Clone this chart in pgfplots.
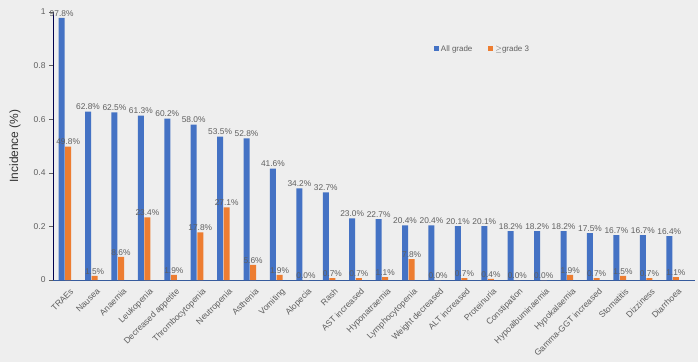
\documentclass[border=0pt]{standalone}
\usepackage{fontspec}
\setmainfont{Liberation Sans}
\usepackage{pgfplots}
\pgfplotsset{compat=1.18}
\usetikzlibrary{backgrounds}
\definecolor{cblue}{HTML}{4472C4}
\definecolor{corange}{HTML}{ED7D31}
\definecolor{bg}{HTML}{EEEEEE}
\definecolor{txt}{HTML}{5F5F5F}
\begin{document}
\begin{tikzpicture}[x=1bp,y=1bp,background rectangle/.style={fill=bg},show background rectangle,inner frame sep=0pt]
\begin{axis}[
  at={(0,0)}, anchor=south west,
  scale only axis, width=642bp, height=268bp,
  ybar=0.6bp, bar width=6bp,
  xmin=-0.45, xmax=23.85, ymin=0, ymax=1,
  axis x line=bottom, axis y line=left,
  axis line style={-},
  x axis line style={draw=cblue!80!black, line width=0.8pt},
  y axis line style={draw=blue!30!black, line width=0.9pt},
  xtick=data,
  xticklabels={TRAEs,Nausea,Anaemia,Leukopenia,Decreased appetite,Thrombocytopenia,Neutropenia,Asthenia,Vomiting,Alopecia,Rash,AST increased,Hyponatraemia,Lymphocytopenia,Weight decreased,ALT increased,Proteinuria,Constipation,Hypoalbuminaemia,Hypokalaemia,Gamma-GGT increased,Stomatitis,Dizziness,Diarrhoea},
  x tick label style={rotate=45, anchor=north east, font=\fontsize{8.6}{9}\selectfont, text=txt, inner sep=2pt, xshift=3bp, yshift=-4bp},
  major x tick style={draw=none},
  ytick={0,0.2,0.4,0.6,0.8,1},
  yticklabels={0,0.2,0.4,0.6,0.8,1},
  y tick label style={font=\fontsize{8.5}{9}\selectfont, text=txt},
  ytick style={draw=txt, line width=0.5pt},
  tick align=outside, major tick length=4bp,
  /pgf/number format/assume math mode=true,
  ylabel={Incidence (\%)},
  ylabel style={font=\fontsize{12}{13}\selectfont, text=black!80, at={(axis description cs:0,0.5)}, anchor=center, yshift=38bp},
  point meta={y*100},
  nodes near coords={\pgfmathprintnumber[fixed,fixed zerofill,precision=1]{\pgfplotspointmeta}\%},
  every node near coord/.append style={font=\fontsize{8.4}{9}\selectfont, text=txt, inner sep=1.5pt},
  legend style={at={(axis cs:13.85,0.862)}, anchor=west, draw=none, fill=none, legend columns=2, font=\fontsize{8}{9}\selectfont, text=txt, /tikz/every even column/.append style={column sep=14bp}},
  legend image code/.code={\fill[#1] (0bp,-2.5bp) rectangle (5bp,2.5bp);},
]
\addplot[fill=cblue, draw=none] coordinates {
(0,0.978) (1,0.628) (2,0.625) (3,0.613) (4,0.602) (5,0.580) (6,0.535) (7,0.528) (8,0.416) (9,0.342) (10,0.327) (11,0.230) (12,0.227) (13,0.204) (14,0.204) (15,0.201) (16,0.201) (17,0.182) (18,0.182) (19,0.182) (20,0.175) (21,0.167) (22,0.167) (23,0.164)};
\addplot[fill=corange, draw=none] coordinates {
(0,0.498) (1,0.015) (2,0.086) (3,0.234) (4,0.019) (5,0.178) (6,0.271) (7,0.056) (8,0.019) (9,0.000) (10,0.007) (11,0.007) (12,0.011) (13,0.078) (14,0.000) (15,0.007) (16,0.004) (17,0.000) (18,0.000) (19,0.019) (20,0.007) (21,0.015) (22,0.007) (23,0.011)};
\legend{All grade, $\geq$grade 3}
\end{axis}
\pgfresetboundingbox
\path[use as bounding box] (-53bp,-82bp) rectangle (645bp,280bp);
\end{tikzpicture}
\end{document}
